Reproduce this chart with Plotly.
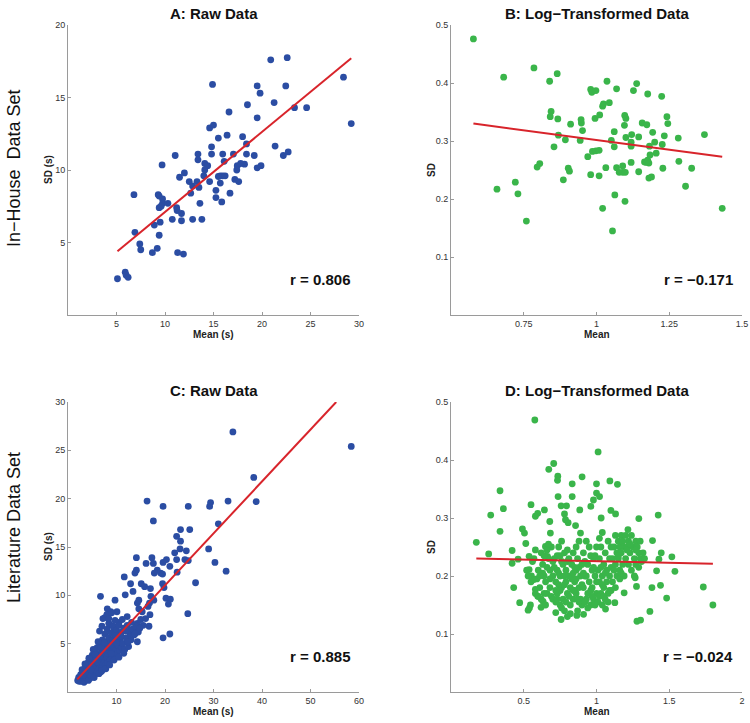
import plotly.graph_objects as go

# ---------------- DATA ----------------
# Panel A: In-house raw data (Mean (s), SD (s))
a_mean = [5.1, 5.9, 6.0, 6.2, 6.8, 6.9, 7.4, 7.5, 8.7, 8.9, 9.2, 9.3, 9.4, 9.4, 9.5, 9.4, 9.7, 9.75, 9.75, 9.6,
          10.3, 10.75, 11.05, 11.2, 11.25, 11.3, 11.7, 11.7, 11.5, 12.0, 11.9, 12.5, 12.65, 12.85, 12.85,
          13.4, 13.4, 13.3, 13.5, 13.6, 13.8, 14.0, 14.1, 14.4, 14.1, 14.6, 15.0, 14.9, 14.8, 14.8, 14.6,
          15.25, 15.25, 15.5, 15.7, 15.5, 15.7, 15.95, 15.85, 15.95, 16.1, 16.2, 16.4, 16.6, 16.7, 17.05,
          17.2, 17.4, 17.45, 17.6, 17.8, 18.0, 18.2, 18.4, 18.4, 18.5, 19.2, 19.5, 19.5, 19.5, 19.8, 19.9,
          20.9, 21.25, 21.35, 22.2, 22.45, 22.6, 22.7, 23.35, 24.6, 28.4, 29.2]
a_sd = [2.5, 2.95, 2.75, 2.6, 8.3, 5.7, 4.9, 4.5, 4.3, 6.2, 4.6, 8.3, 8.2, 7.4, 6.4, 5.5, 10.35, 8.0, 7.7, 7.5,
        7.7, 6.6, 11.0, 7.4, 7.2, 4.3, 7.0, 6.5, 9.5, 9.8, 4.2, 9.2, 8.4, 8.9, 6.6,
        11.1, 10.7, 9.2, 8.8, 7.7, 6.6, 9.6, 10.45, 10.3, 10.0, 12.9, 13.1, 15.9, 11.6, 11.1, 9.2,
        8.6, 8.1, 12.2, 9.6, 9.55, 9.1, 9.6, 7.8, 11.1, 10.6, 9.6, 12.4, 14.0, 8.4, 11.1,
        9.35, 10.0, 10.3, 9.2, 10.45, 12.3, 10.4, 11.8, 11.1, 14.5, 11.0, 15.8, 13.6, 10.15, 15.3, 10.3,
        17.6, 14.65, 11.65, 11.0, 15.8, 17.75, 11.25, 14.3, 14.3, 16.4, 13.2]
a_fit_x = [5.1, 29.2]
a_fit_y = [4.4, 17.7]
a_r = "r = 0.806"

# Panel B: In-house log-transformed data
b_mean = [0.577, 0.681, 0.658, 0.721, 0.730, 0.759, 0.785, 0.839, 0.865, 0.844, 0.841, 0.867, 0.869, 0.854,
          0.796, 0.805, 0.893, 0.911, 0.903, 0.907, 0.886, 0.947, 0.948, 0.952, 0.944, 0.970, 0.980, 0.980,
          0.984, 0.998, 0.995, 1.011, 1.021, 1.024, 0.986, 0.998, 1.009, 1.009, 1.036, 1.044, 1.021, 1.032,
          1.051, 1.055, 1.061, 1.061, 1.063, 1.069, 1.069, 1.078, 1.090, 1.090, 1.099, 1.096, 1.097, 1.101,
          1.101, 1.098, 1.119, 1.119, 1.121, 1.119, 1.127, 1.138, 1.145, 1.145, 1.157, 1.165, 1.171, 1.173,
          1.176, 1.176, 1.180, 1.180, 1.189, 1.182, 1.184, 1.193, 1.200, 1.205, 1.224, 1.226, 1.228, 1.233,
          1.242, 1.245, 1.281, 1.283, 1.306, 1.327, 1.371, 1.432]
b_sd = [0.476, 0.410, 0.217, 0.229, 0.209, 0.162, 0.426, 0.403, 0.416, 0.351, 0.342, 0.338, 0.310, 0.290,
        0.255, 0.261, 0.302, 0.329, 0.253, 0.248, 0.233, 0.337, 0.331, 0.318, 0.301, 0.273, 0.242, 0.389,
        0.384, 0.387, 0.339, 0.345, 0.360, 0.364, 0.282, 0.283, 0.284, 0.240, 0.403, 0.366, 0.184, 0.254,
        0.301, 0.145, 0.316, 0.290, 0.207, 0.390, 0.254, 0.246, 0.257, 0.246, 0.246, 0.327, 0.344, 0.339,
        0.306, 0.196, 0.298, 0.291, 0.311, 0.263, 0.387, 0.399, 0.307, 0.247, 0.331, 0.264, 0.263, 0.328,
        0.381, 0.267, 0.262, 0.236, 0.238, 0.291, 0.276, 0.315, 0.298, 0.279, 0.377, 0.294, 0.253, 0.309,
        0.342, 0.330, 0.305, 0.265, 0.222, 0.253, 0.311, 0.184]
b_fit_x = [0.577, 1.432]
b_fit_y = [0.330, 0.273]
b_r = "r = \u22120.171"

# Panel C: Literature raw data
c_mean = [58.4, 34.0, 38.3, 38.8, 33.0, 29.4, 29.2, 31.0, 29.0, 30.3, 32.6, 26.3, 24.8, 25.1, 23.2, 22.4, 23.2,
          23.1, 24.4, 22.0, 22.4, 24.1, 24.8, 21.0, 22.5, 20.3, 19.6, 19.1, 19.5, 18.4, 17.8, 17.6, 17.3,
          16.3, 19.6, 17.6, 14.1, 16.1, 14.1, 13.8, 11.6, 12.9, 13.4, 15.1, 15.8, 17.0, 19.5, 19.8, 17.1,
          17.7, 16.8, 16.5, 16.9, 16.7, 20.2, 21.1, 20.7, 24.7, 19.6, 21.0, 6.7, 9.7, 11.8, 8.1, 8.8, 10.1,
          7.2, 12.2, 14.3, 14.6, 14.6, 15.3, 14.3, 13.6, 14.3, 12.2, 12.9, 10.5, 11.2, 8.4, 9.5, 10.8,
          2.0, 2.2, 2.4, 2.6, 2.8, 3.0, 3.0, 3.2, 3.4, 3.5, 3.6, 3.8, 4.0, 4.0, 4.1, 4.3, 4.4, 4.5, 4.6, 4.8,
          4.9, 5.0, 5.0, 5.2, 5.3, 5.5, 5.5, 5.6, 5.8, 5.9, 6.0, 6.1, 6.2, 6.3, 6.5, 6.6, 6.7, 6.8, 6.9, 7.0,
          7.1, 7.2, 7.3, 7.4, 7.5, 7.6, 7.7, 7.8, 7.9, 8.0, 8.1, 8.2, 8.3, 8.4, 8.5, 8.6, 8.7, 8.8, 8.9, 9.0,
          9.1, 9.2, 9.3, 9.4, 9.5, 9.6, 9.7, 9.8, 9.9, 10.0, 10.1, 10.3, 10.4, 10.5, 10.7, 10.8, 11.0, 11.1,
          11.3, 11.5, 11.7, 12.0, 12.2, 12.5, 12.8, 13.0, 13.3, 13.6, 14.0, 14.5, 15.0, 15.5, 16.0,
          2.3, 2.7, 3.3, 3.7, 4.2, 4.7, 5.4, 5.7, 6.4, 7.0, 7.8, 8.6, 9.5, 10.5, 11.5, 3.1, 3.9, 4.5, 5.1,
          5.9, 6.6, 7.3, 8.1, 9.0, 10.0, 3.5, 4.3, 5.2, 6.2, 6.5, 7.0, 7.6, 8.0, 8.4, 9.0, 5.6, 6.0, 2.9,
          3.6, 4.7, 6.8, 7.5, 8.9, 9.9, 10.9, 11.9, 12.4, 13.1, 13.8, 14.8]
c_sd = [25.4, 26.9, 22.2, 19.7, 19.75, 19.6, 19.2, 17.4, 14.8, 13.4, 12.5, 11.3, 19.2, 16.8, 16.8, 16.1, 15.6,
        14.8, 14.6, 14.4, 13.7, 13.7, 13.6, 13.0, 12.4, 13.7, 13.4, 12.3, 12.2, 12.6, 12.3, 13.3, 13.9,
        19.75, 19.2, 17.7, 13.9, 13.3, 12.6, 12.3, 11.9, 11.2, 10.4, 11.2, 10.9, 10.7, 11.2, 10.8, 9.9,
        9.5, 9.2, 8.85, 8.0, 6.8, 9.7, 9.6, 9.1, 8.1, 5.6, 6.0, 9.9, 9.5, 10.05, 8.6, 8.3, 8.3,
        7.6, 7.8, 9.2, 8.6, 9.5, 8.3, 7.1, 6.3, 5.2, 5.2, 6.4, 7.2, 7.5, 7.1, 6.6, 6.1,
        1.2, 1.5, 1.3, 1.8, 1.4, 1.2, 2.0, 1.6, 2.4, 1.3, 1.9, 2.7, 1.5, 2.2, 3.0, 1.8, 2.5, 1.4, 3.3, 2.0,
        2.8, 1.6, 3.8, 2.3, 3.1, 1.8, 4.2, 2.6, 3.5, 2.0, 4.6, 3.0, 2.3, 3.9, 2.7, 5.0, 3.4, 2.1, 4.3, 3.0,
        5.4, 2.5, 3.8, 4.8, 3.3, 6.0, 2.8, 4.2, 5.2, 3.6, 6.5, 3.0, 4.6, 5.6, 3.9, 7.0, 3.3, 5.0, 6.1, 4.3,
        3.6, 5.4, 6.8, 4.7, 3.9, 5.9, 7.4, 4.4, 5.2, 6.4, 4.0, 5.7, 4.8, 6.9, 4.3, 5.3, 6.2, 4.6,
        5.0, 6.6, 4.4, 5.6, 6.9, 4.7, 6.0, 5.4, 6.5, 5.9, 6.8, 6.2, 7.5, 6.9, 7.6,
        1.1, 1.1, 1.0, 1.5, 1.2, 1.7, 1.5, 2.3, 1.9, 2.2, 2.4, 2.8, 3.3, 3.6, 4.0, 1.7, 2.5, 2.9, 2.6,
        3.3, 3.7, 4.1, 4.0, 4.9, 5.1, 2.9, 3.5, 4.4, 5.2, 6.3, 6.8, 7.7, 8.0, 7.6, 8.2, 3.9, 3.1, 2.3,
        2.1, 2.3, 4.6, 5.1, 4.0, 5.8, 5.8, 6.3, 5.2, 7.2, 6.0, 6.6]
c_fit_x = [1.9, 55.3]
c_fit_y = [1.3, 30.0]
c_r = "r = 0.885"

# Panel D: Literature log-transformed data
d_mean = [0.174, 0.259, 0.273, 0.337, 0.337, 0.360, 0.420, 0.420, 0.431, 0.461, 0.472, 0.491, 0.505, 0.514,
          0.537, 0.537, 0.539, 0.546, 0.530, 0.550, 0.576, 0.580, 0.596, 0.553, 0.569, 0.580, 0.596, 0.619,
          0.633, 0.642, 0.649, 0.663, 0.672, 0.679, 0.683, 0.706, 0.734, 0.732, 0.736, 0.720, 0.757, 0.757,
          0.794, 0.780, 0.787, 0.805, 0.833, 0.833, 0.856, 0.865, 0.885, 0.890, 0.901, 0.911, 0.961, 0.979,
          1.000, 1.000, 1.011, 1.021, 1.032, 1.092, 1.099, 1.144, 1.131, 1.216, 1.291, 1.424, 1.385, 1.445,
          1.429, 1.413, 1.539, 1.518, 1.381, 1.440, 1.482, 1.367, 1.278, 1.303, 1.275, 1.266, 1.734, 1.800,
          1.190, 1.126, 1.062,
          0.52, 0.55, 0.57, 0.58, 0.60, 0.56, 0.59, 0.61, 0.53,
          0.62, 0.63, 0.64, 0.65, 0.66, 0.67, 0.68, 0.69, 0.62, 0.64, 0.66, 0.68, 0.70, 0.65, 0.69,
          0.71, 0.72, 0.73, 0.73, 0.74, 0.75, 0.75, 0.76, 0.77, 0.77, 0.78, 0.78, 0.79, 0.79, 0.80, 0.80,
          0.71, 0.74, 0.76, 0.72, 0.78, 0.75, 0.80, 0.76, 0.73,
          0.81, 0.82, 0.82, 0.83, 0.84, 0.84, 0.85, 0.86, 0.86, 0.87, 0.87, 0.88, 0.88, 0.89, 0.89, 0.90,
          0.90, 0.83, 0.85, 0.81, 0.86, 0.88, 0.84,
          0.91, 0.91, 0.92, 0.93, 0.93, 0.94, 0.94, 0.95, 0.95, 0.96, 0.97, 0.97, 0.98, 0.98, 0.99, 1.00,
          1.00, 0.92, 0.96, 0.99,
          1.01, 1.01, 1.02, 1.02, 1.03, 1.03, 1.04, 1.04, 1.05, 1.05, 1.06, 1.06, 1.07, 1.07, 1.08, 1.08,
          1.09, 1.09, 1.10, 1.10, 1.04, 1.02,
          1.11, 1.11, 1.12, 1.12, 1.13, 1.13, 1.14, 1.14, 1.15, 1.15, 1.16, 1.16, 1.17, 1.17, 1.18, 1.18,
          1.19, 1.19, 1.20, 1.20, 1.13, 1.16,
          1.21, 1.22, 1.22, 1.23, 1.24, 1.24, 1.25, 1.26, 1.27, 1.27, 1.28, 1.29, 1.30, 1.30, 1.31, 1.32,
          1.33, 1.29, 1.26,
          0.58, 0.60, 0.63, 0.66, 0.68, 0.70, 0.72, 0.74, 0.76, 0.78, 0.80, 0.82, 0.84, 0.86, 0.88, 0.90,
          0.92, 0.94, 0.96, 0.98, 1.00, 1.02, 1.04, 1.06, 1.08, 1.10,
          0.64, 0.70, 0.75, 0.81, 0.87, 0.93, 0.99, 1.05,
          0.61, 0.67, 0.73, 0.79, 0.85, 0.91, 0.97, 1.03, 1.09, 1.15, 1.21, 1.27, 1.17, 1.23]
d_sd = [0.258, 0.238, 0.305, 0.347, 0.277, 0.316, 0.244, 0.222, 0.180, 0.229, 0.154, 0.281, 0.274, 0.256,
        0.234, 0.211, 0.145, 0.150, 0.141, 0.323, 0.469, 0.303, 0.308, 0.200, 0.194, 0.177, 0.165, 0.146,
        0.156, 0.314, 0.251, 0.234, 0.384, 0.294, 0.274, 0.394, 0.372, 0.365, 0.337, 0.137, 0.125, 0.321,
        0.321, 0.307, 0.297, 0.292, 0.359, 0.337, 0.287, 0.132, 0.314, 0.274, 0.371, 0.134, 0.320, 0.331,
        0.359, 0.343, 0.414, 0.337, 0.300, 0.364, 0.313, 0.358, 0.307, 0.280, 0.299, 0.305, 0.261, 0.240,
        0.229, 0.209, 0.208, 0.233, 0.180, 0.184, 0.162, 0.139, 0.122, 0.124, 0.182, 0.197, 0.181, 0.150,
        0.171, 0.154, 0.143,
        0.21, 0.19, 0.23, 0.17, 0.21, 0.225, 0.195, 0.18, 0.20,
        0.24, 0.22, 0.20, 0.19, 0.17, 0.23, 0.21, 0.25, 0.16, 0.235, 0.215, 0.18, 0.20, 0.15, 0.165,
        0.23, 0.19, 0.21, 0.17, 0.25, 0.15, 0.20, 0.18, 0.22, 0.16, 0.24, 0.14, 0.19, 0.21, 0.17, 0.13,
        0.215, 0.185, 0.225, 0.155, 0.20, 0.175, 0.245, 0.26, 0.235,
        0.20, 0.18, 0.15, 0.22, 0.16, 0.24, 0.19, 0.17, 0.21, 0.14, 0.23, 0.18, 0.26, 0.16, 0.20, 0.15,
        0.22, 0.195, 0.175, 0.165, 0.25, 0.155, 0.205,
        0.18, 0.24, 0.20, 0.16, 0.26, 0.17, 0.22, 0.19, 0.25, 0.15, 0.21, 0.18, 0.23, 0.16, 0.20, 0.25,
        0.17, 0.155, 0.235, 0.15,
        0.21, 0.155, 0.19, 0.23, 0.17, 0.25, 0.20, 0.15, 0.22, 0.18, 0.24, 0.16, 0.21, 0.19, 0.26, 0.17,
        0.23, 0.20, 0.25, 0.215, 0.275, 0.265,
        0.23, 0.19, 0.25, 0.21, 0.27, 0.22, 0.24, 0.20, 0.26, 0.23, 0.25, 0.21, 0.27, 0.24, 0.22, 0.26,
        0.25, 0.20, 0.27, 0.23, 0.18, 0.195,
        0.25, 0.26, 0.22, 0.24, 0.27, 0.21, 0.25, 0.23, 0.26, 0.22, 0.25, 0.24, 0.26, 0.23, 0.225, 0.24,
        0.23, 0.215, 0.20,
        0.245, 0.165, 0.205, 0.245, 0.195, 0.225, 0.175, 0.205, 0.145, 0.185, 0.225, 0.135, 0.175, 0.195,
        0.215, 0.185, 0.225, 0.145, 0.175, 0.215, 0.19, 0.165, 0.185, 0.205, 0.155, 0.175,
        0.17, 0.16, 0.235, 0.23, 0.16, 0.20, 0.235, 0.165,
        0.20, 0.255, 0.16, 0.155, 0.215, 0.205, 0.165, 0.215, 0.175, 0.235, 0.245, 0.245, 0.205, 0.255]
d_fit_x = [0.174, 1.80]
d_fit_y = [0.230, 0.221]
d_r = "r = \u22120.024"

titles = ["A: Raw Data", "B: Log\u2212Transformed Data", "C: Raw Data", "D: Log\u2212Transformed Data"]
row_labels = ["In\u2212House  Data Set", "Literature Data Set"]
x_titles = ["Mean (s)", "Mean", "Mean (s)", "Mean"]
y_titles = ["SD (s)", "SD", "SD (s)", "SD"]

a_xticks = [5, 10, 15, 20, 25, 30]
a_yticks = [5, 10, 15, 20]
b_xticks = [0.75, 1, 1.25, 1.5]
b_xticktext = ["0.75", "1", "1.25", "1.5"]
log_yticks = [0.1, 0.2, 0.3, 0.4, 0.5]
c_xticks = [10, 20, 30, 40, 50, 60]
c_yticks = [5, 10, 15, 20, 25, 30]
d_xticks = [0.5, 1, 1.5, 2]

# ---------------- FIGURE ----------------
W, H = 750, 723
BLUE = "#2B4DA3"
GREEN = "#3AB54A"
RED = "#D8242B"
FONT = "Liberation Sans, Arial, sans-serif"

def px(x, y):
    return x / W, 1 - y / H

fig = go.Figure()

panels = [
    (a_mean, a_sd, a_fit_x, a_fit_y, BLUE, "x", "y"),
    (b_mean, b_sd, b_fit_x, b_fit_y, GREEN, "x2", "y2"),
    (c_mean, c_sd, c_fit_x, c_fit_y, BLUE, "x3", "y3"),
    (d_mean, d_sd, d_fit_x, d_fit_y, GREEN, "x4", "y4"),
]
for mx, my, fx, fy, col, xa, ya in panels:
    fig.add_trace(go.Scatter(x=mx, y=my, mode="markers", xaxis=xa, yaxis=ya,
                             marker=dict(color=col, size=6.8, line=dict(width=0)),
                             showlegend=False, hoverinfo="skip"))
    fig.add_trace(go.Scatter(x=fx, y=fy, mode="lines", xaxis=xa, yaxis=ya,
                             line=dict(color=RED, width=2), showlegend=False, hoverinfo="skip"))

# plot-area pixel boxes (left, right, top, bottom)
boxes = [(68, 359, 25, 315), (451, 742, 25, 315), (68, 359, 402, 692), (451, 742, 402, 692)]

def ax_style(domain, rng, tickvals, ticktext=None):
    d = dict(domain=domain, range=rng, tickvals=tickvals, showline=True, linecolor="#9a9a9a",
             linewidth=1, ticks="inside", ticklen=3, tickcolor="#9a9a9a", showgrid=False,
             zeroline=False, tickfont=dict(family=FONT, size=9, color="#333333"), fixedrange=True,
             ticklabeloverflow="allow", automargin=False)
    if ticktext is not None:
        d["ticktext"] = ticktext
    return d

xranges = [[0, 30], [0.5, 1.5], [0, 60], [0, 2]]
yranges = [[0, 20], [0, 0.5], [0, 30], [0, 0.5]]
xtv = [(a_xticks, None), (b_xticks, b_xticktext), (c_xticks, None), (d_xticks, None)]
ytv = [(a_yticks, None), (log_yticks, None), (c_yticks, None), (log_yticks, None)]

layout = dict(width=W, height=H, margin=dict(l=0, r=0, t=0, b=0),
              plot_bgcolor="white", paper_bgcolor="white", showlegend=False)
for i, (l, r, t, b) in enumerate(boxes):
    n = "" if i == 0 else str(i + 1)
    xd = [l / W, r / W]
    yd = [1 - b / H, 1 - t / H]
    xa = ax_style(xd, xranges[i], *xtv[i])
    ya = ax_style(yd, yranges[i], *ytv[i])
    xa["anchor"] = "y" + n
    ya["anchor"] = "x" + n
    layout["xaxis" + n] = xa
    layout["yaxis" + n] = ya
fig.update_layout(**layout)

ann = []
r_texts = [a_r, b_r, c_r, d_r]
for i, (l, r, t, b) in enumerate(boxes):
    cx = (l + r) / 2
    cy = (t + b) / 2
    x0, y0 = px(cx, t - 12)
    ann.append(dict(x=x0, y=y0, text="<b>%s</b>" % titles[i], font=dict(family=FONT, size=15, color="#111")))
    x0, y0 = px(cx, b + 19)
    ann.append(dict(x=x0, y=y0, text="<b>%s</b>" % x_titles[i], font=dict(family=FONT, size=10, color="#222")))
    x0, y0 = px(l - 20, cy)
    ann.append(dict(x=x0, y=y0, text="<b>%s</b>" % y_titles[i], textangle=-90,
                    font=dict(family=FONT, size=10, color="#222")))
    x0, y0 = px(r - 7, b - 36)
    ann.append(dict(x=x0, y=y0, text="<b>%s</b>" % r_texts[i], xanchor="right",
                    font=dict(family=FONT, size=15, color="#111")))
for lbl, cy in zip(row_labels, [168, 528]):
    x0, y0 = px(14, cy)
    ann.append(dict(x=x0, y=y0, text=lbl, textangle=-90, font=dict(family=FONT, size=18, color="#111")))
for a in ann:
    a.update(xref="paper", yref="paper", showarrow=False)
    a.setdefault("xanchor", "center")
    a["yanchor"] = "middle"
fig.update_layout(annotations=ann)

fig.write_html("out.html", config={"displayModeBar": False},
               post_script="document.body.style.margin='0';document.body.style.overflow='hidden';")
